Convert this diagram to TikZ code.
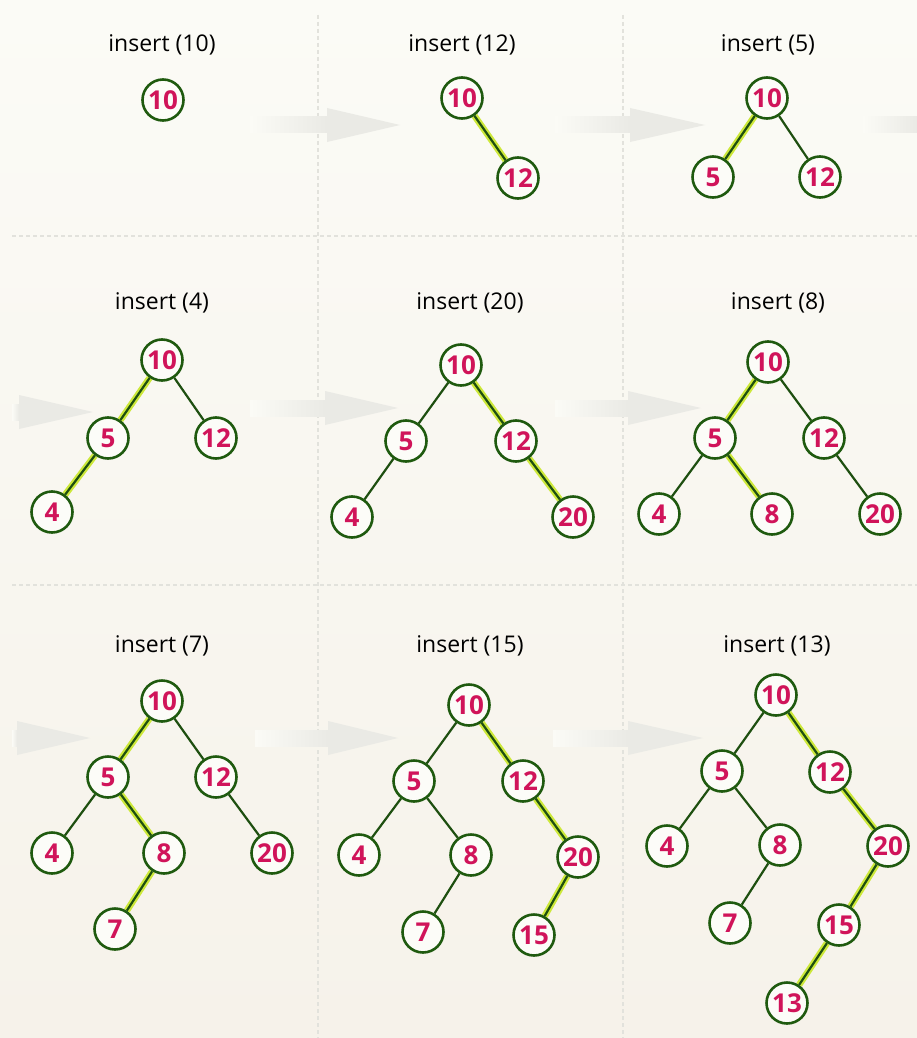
\documentclass[tikz,border=0pt]{standalone}
\usepackage{fontspec}
\setmainfont{Open Sans}
\newfontfamily\numfont{Open Sans}[UprightFont=* Bold]
\usetikzlibrary{calc}
\definecolor{bgtop}{HTML}{FBFBF6}
\definecolor{bgbot}{HTML}{F6F2EA}
\definecolor{gridc}{HTML}{E2E2DC}
\definecolor{arrowc}{HTML}{EAEAE5}
\definecolor{ringc}{HTML}{1F5A0F}
\definecolor{edgec}{HTML}{1E4F10}
\definecolor{glowc}{HTML}{CDE83A}
\definecolor{numc}{HTML}{D0145A}
\definecolor{fillc}{HTML}{FCFCF8}
\pgfdeclarelayer{back}
\pgfdeclarelayer{edges}
\pgfsetlayers{back,edges,main}
\tikzset{
  bst/.style={circle, draw=ringc, line width=2.6pt, fill=fillc, minimum size=41pt, inner sep=0pt,
    text=numc, font=\numfont\fontsize{26}{28}\selectfont},
  ttl/.style={font=\fontsize{23}{27}\selectfont, text=black, inner sep=0pt},
  edge/.style={draw=edgec, line width=2.2pt},
  glow/.style={draw=glowc, line width=6.5pt},
  grid/.style={draw=gridc, line width=1.3pt, dash pattern=on 4pt off 3pt},
}
\newcommand{\ed}[2]{\draw[edge] (#1) -- (#2);}
\newcommand{\hed}[2]{\draw[glow] (#1) -- (#2);\draw[edge] (#1) -- (#2);}
\newcommand{\bigarrow}[4]{%
  \shade[left color=bgtop, right color=arrowc] (#1,#4-8) rectangle (#2,#4+8);
  \fill[arrowc] (#2,#4-17) -- (#3,#4) -- (#2,#4+17) -- cycle;}
\begin{document}
\begin{tikzpicture}[x=1pt,y=-1pt]
\useasboundingbox (0,0) rectangle (917,1038);
\begin{pgfonlayer}{back}
\shade[top color=bgtop, bottom color=bgbot] (0,0) rectangle (917,1038);
\draw[grid] (318,15) -- (318,1038);
\draw[grid] (623,15) -- (623,1038);
\draw[grid] (12,236) -- (917,236);
\draw[grid] (12,585) -- (917,585);
% arrows
\bigarrow{250}{327}{400}{125}
\bigarrow{555}{630}{705}{125}
\shade[left color=bgtop, right color=arrowc] (863,117) rectangle (917,133);
\bigarrow{12}{19}{93}{412}
\bigarrow{250}{325}{398}{408}
\bigarrow{555}{628}{701}{408}
\bigarrow{12}{17}{90}{738}
\bigarrow{255}{328}{398}{738}
\bigarrow{553}{628}{703}{738}
\end{pgfonlayer}

% titles
\node[ttl] (t1) at (162,45) {insert (10)};
\node[ttl] (t2) at (462,45) {insert (12)};
\node[ttl] (t3) at (768,45) {insert (5)};
\node[ttl] (t4) at (162,303) {insert (4)};
\node[ttl] (t5) at (470,303) {insert (20)};
\node[ttl] (t6) at (778,303) {insert (8)};
\node[ttl] (t7) at (162,646) {insert (7)};
\node[ttl] (t8) at (470,646) {insert (15)};
\node[ttl] (t9) at (777,646) {insert (13)};

% panel 1
\node[bst] (a10) at (163,100) {10};
% panel 2
\node[bst] (b10) at (462,98) {10};
\node[bst] (b12) at (518,178) {12};
% panel 3
\node[bst] (c10) at (767,98) {10};
\node[bst] (c5) at (713,177) {5};
\node[bst] (c12) at (820,177) {12};
% panel 4
\node[bst] (d10) at (162,360) {10};
\node[bst] (d5) at (108,438) {5};
\node[bst] (d12) at (216,438) {12};
\node[bst] (d4) at (52,512) {4};
% panel 5
\node[bst] (e10) at (461,365) {10};
\node[bst] (e5) at (406,441) {5};
\node[bst] (e12) at (516,441) {12};
\node[bst] (e4) at (352,517) {4};
\node[bst] (e20) at (573,517) {20};
% panel 6
\node[bst] (f10) at (768,362) {10};
\node[bst] (f5) at (715,438) {5};
\node[bst] (f12) at (824,438) {12};
\node[bst] (f4) at (659,514) {4};
\node[bst] (f8) at (772,514) {8};
\node[bst] (f20) at (880,514) {20};
% panel 7
\node[bst] (g10) at (162,701) {10};
\node[bst] (g5) at (108,777) {5};
\node[bst] (g12) at (216,777) {12};
\node[bst] (g4) at (52,853) {4};
\node[bst] (g8) at (164,853) {8};
\node[bst] (g20) at (272,853) {20};
\node[bst] (g7) at (115,929) {7};
% panel 8
\node[bst] (h10) at (469,705) {10};
\node[bst] (h5) at (414,781) {5};
\node[bst] (h12) at (523,781) {12};
\node[bst] (h4) at (359,855) {4};
\node[bst] (h8) at (471,855) {8};
\node[bst] (h20) at (578,857) {20};
\node[bst] (h7) at (423,932) {7};
\node[bst] (h15) at (534,935) {15};
% panel 9
\node[bst] (i10) at (776,695) {10};
\node[bst] (i5) at (722,771) {5};
\node[bst] (i12) at (830,772) {12};
\node[bst] (i4) at (667,846) {4};
\node[bst] (i8) at (780,845) {8};
\node[bst] (i20) at (888,846) {20};
\node[bst] (i7) at (730,923) {7};
\node[bst] (i15) at (839,925) {15};
\node[bst] (i13) at (787,1003) {13};

\begin{pgfonlayer}{edges}
\hed{b10}{b12}
\hed{c10}{c5} \ed{c10}{c12}
\hed{d10}{d5} \ed{d10}{d12} \hed{d5}{d4}
\ed{e10}{e5} \hed{e10}{e12} \ed{e5}{e4} \hed{e12}{e20}
\hed{f10}{f5} \ed{f10}{f12} \ed{f5}{f4} \hed{f5}{f8} \ed{f12}{f20}
\hed{g10}{g5} \ed{g10}{g12} \ed{g5}{g4} \hed{g5}{g8} \ed{g12}{g20} \hed{g8}{g7}
\ed{h10}{h5} \hed{h10}{h12} \ed{h5}{h4} \ed{h5}{h8} \hed{h12}{h20} \ed{h8}{h7} \hed{h20}{h15}
\ed{i10}{i5} \hed{i10}{i12} \ed{i5}{i4} \ed{i5}{i8} \hed{i12}{i20} \ed{i8}{i7} \hed{i20}{i15} \hed{i15}{i13}
\end{pgfonlayer}
\end{tikzpicture}
\end{document}
